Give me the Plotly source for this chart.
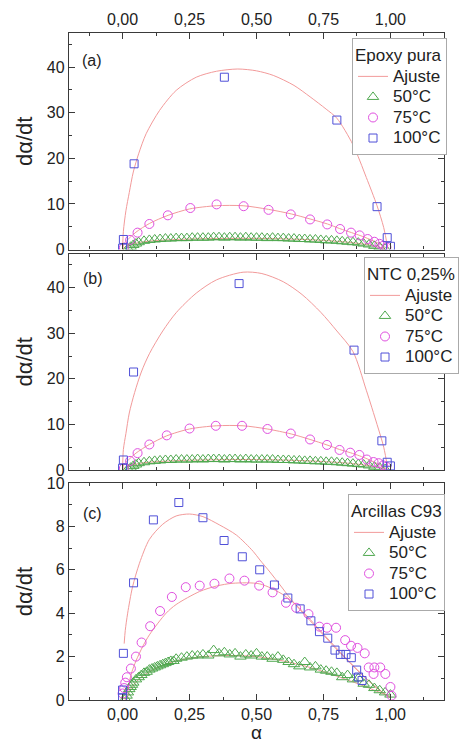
import plotly.graph_objects as go
from plotly.subplots import make_subplots

# ---------------- Panel (a): Epoxy pura ----------------
a_t50_x = [0.02,0.03,0.04,0.05,0.06,0.08,0.10,0.12,0.14,0.16,0.18,0.20,0.22,0.24,0.26,0.28,0.30,0.32,0.34,0.36,0.38,0.40,0.42,0.44,0.46,0.48,0.50,0.52,0.54,0.56,0.58,0.60,0.62,0.64,0.66,0.68,0.70,0.72,0.74,0.76,0.78,0.80,0.82,0.84,0.86,0.88,0.90,0.92,0.94,0.96,0.98]
a_t50_y = [0.2,0.6,1.0,1.3,1.6,1.9,2.1,2.2,2.3,2.4,2.4,2.5,2.5,2.5,2.6,2.6,2.6,2.6,2.7,2.7,2.6,2.7,2.7,2.6,2.7,2.6,2.6,2.6,2.5,2.6,2.5,2.5,2.4,2.4,2.3,2.3,2.2,2.2,2.1,2.0,2.0,1.9,1.8,1.7,1.6,1.5,1.3,1.1,0.8,0.5,0.2]
a_t75_x = [0.005,0.028,0.056,0.10,0.169,0.253,0.351,0.452,0.545,0.628,0.70,0.764,0.812,0.853,0.885,0.915,0.94,0.959,0.973,0.985]
a_t75_y = [0.4,2.1,3.7,5.6,7.5,9.1,9.9,9.5,8.7,7.7,6.6,5.5,4.5,3.7,3.1,2.3,1.7,1.25,0.8,0.5]
a_t100_x = [0.0,0.003,0.043,0.38,0.80,0.95,0.988,1.0]
a_t100_y = [0.3,2.2,18.8,37.8,28.4,9.4,2.6,0.7]
a_fit50_x = [0,0.01,0.03,0.08,0.15,0.25,0.35,0.45,0.55,0.65,0.75,0.85,0.92,0.96,0.98]
a_fit50_y = [0,0.6,1.1,1.7,2.05,2.3,2.4,2.45,2.4,2.25,2.0,1.55,1.0,0.5,0.1]
a_fit75_x = [0,0.005,0.02,0.05,0.1,0.17,0.25,0.35,0.45,0.545,0.63,0.70,0.765,0.81,0.855,0.89,0.92,0.95,0.97,0.99]
a_fit75_y = [0,1.2,2.2,3.8,5.7,7.5,8.9,9.6,9.6,8.8,7.8,6.7,5.6,4.6,3.7,3.0,2.3,1.5,0.9,0.1]
a_fit100_x = [0,0.003,0.0125,0.025,0.04,0.06,0.088,0.138,0.2,0.275,0.35,0.43,0.5,0.5625,0.64,0.70,0.76,0.80,0.86,0.91,0.95,0.975,0.99]
a_fit100_y = [0,4,8.5,12.5,17,21,25.4,30.5,34.9,37.8,39.1,39.6,39.2,38.2,36,33.5,30.8,28.8,23,15.8,9.6,4.8,0.3]

# ---------------- Panel (b): NTC 0,25% ----------------
b_t50_x = a_t50_x
b_t50_y = [0.2,0.5,0.9,1.2,1.5,1.7,1.9,2.0,2.1,2.2,2.2,2.3,2.3,2.3,2.3,2.4,2.3,2.4,2.4,2.4,2.3,2.4,2.4,2.3,2.4,2.3,2.3,2.3,2.3,2.3,2.2,2.2,2.2,2.1,2.1,2.0,2.0,1.9,1.9,1.8,1.8,1.7,1.6,1.5,1.4,1.3,1.2,1.0,0.7,0.5,0.2]
b_t75_x = [0.005,0.028,0.056,0.10,0.165,0.25,0.348,0.446,0.541,0.628,0.70,0.763,0.81,0.85,0.884,0.912,0.937,0.956,0.973,0.985]
b_t75_y = [0.4,2.0,3.7,5.6,7.6,9.1,9.7,9.7,9.0,8.0,6.7,5.5,4.4,3.8,3.3,2.3,1.75,1.5,1.0,0.7]
b_t100_x = [0.0,0.003,0.041,0.435,0.864,0.968,0.988,1.0]
b_t100_y = [0.4,2.2,21.5,40.9,26.3,6.4,1.7,0.9]
b_fit50_x = [0,0.01,0.03,0.08,0.15,0.25,0.35,0.45,0.55,0.65,0.75,0.85,0.92,0.96,0.98]
b_fit50_y = [0,0.5,1.0,1.6,1.9,2.15,2.25,2.3,2.25,2.1,1.85,1.45,0.95,0.5,0.1]
b_fit75_x = [0,0.005,0.02,0.05,0.1,0.165,0.25,0.35,0.45,0.54,0.63,0.70,0.763,0.81,0.85,0.885,0.915,0.94,0.965,0.99]
b_fit75_y = [0,1.2,2.1,3.7,5.6,7.5,9.0,9.7,9.7,9.0,7.9,6.7,5.5,4.5,3.8,3.1,2.4,1.7,1.0,0.1]
b_fit100_x = [0,0.003,0.0125,0.025,0.045,0.07,0.1,0.15,0.2,0.275,0.35,0.45,0.52,0.6,0.67,0.74,0.8,0.86,0.91,0.95,0.975,0.99]
b_fit100_y = [0,4.5,8,12.5,17,21.5,25.5,30.5,34.5,38.8,41.7,43.4,43.1,41.3,38.5,34.6,30.5,26,17.5,10,5,0.3]

# ---------------- Panel (c): Arcillas C93 ----------------
c_t50_x = [0.01,0.015,0.02,0.025,0.03,0.035,0.04,0.05,0.06,0.07,0.08,0.09,0.10,0.11,0.12,0.13,0.14,0.15,0.16,0.17,0.18,0.19,0.20,0.22,0.24,0.26,0.28,0.30,0.32,0.34,0.36,0.38,0.40,0.42,0.44,0.46,0.48,0.50,0.52,0.54,0.56,0.58,0.60,0.62,0.64,0.66,0.68,0.70,0.72,0.74,0.76,0.78,0.80,0.82,0.84,0.86,0.88,0.90,0.92,0.94,0.96,0.98,1.00]
c_t50_y = [0.05,0.2,0.35,0.5,0.6,0.7,0.8,0.95,1.05,1.15,1.25,1.3,1.4,1.45,1.5,1.55,1.6,1.65,1.7,1.75,1.8,1.8,1.9,1.95,2.0,2.05,2.05,2.1,2.05,2.3,2.15,2.2,2.1,2.15,2.0,2.1,2.05,2.15,2.0,2.0,1.9,2.0,1.85,1.75,1.65,1.55,1.75,1.5,1.55,1.4,1.35,1.3,1.25,1.05,1.15,0.95,1.0,0.75,0.7,0.55,0.45,0.35,0.25]
c_t75_x = [0.0,0.006,0.01,0.016,0.031,0.05,0.071,0.103,0.14,0.184,0.236,0.288,0.343,0.399,0.455,0.51,0.56,0.61,0.648,0.694,0.735,0.763,0.797,0.831,0.853,0.877,0.904,0.919,0.937,0.94,0.962,0.981,1.0,1.004]
c_t75_y = [0.3,0.55,0.8,1.05,1.45,2.0,2.65,3.4,4.1,4.75,5.2,5.27,5.36,5.6,5.5,5.27,4.96,4.48,4.25,3.96,3.38,3.33,3.33,2.76,2.5,2.4,2.15,1.5,1.2,1.5,1.5,1.2,0.6,0.2]
c_t100_x = [0.0,0.0,0.003,0.041,0.115,0.21,0.30,0.379,0.447,0.512,0.567,0.617,0.663,0.703,0.735,0.766,0.793,0.813,0.834,0.854,0.874,0.881,0.894]
c_t100_y = [0.1,0.46,2.15,5.4,8.3,9.1,8.4,7.35,6.6,6.0,5.3,4.7,4.2,3.65,3.15,2.85,2.3,2.1,2.1,1.95,1.38,1.06,0.9]
c_fit50_x = [0.015,0.03,0.06,0.1,0.15,0.2,0.3,0.4,0.5,0.6,0.7,0.8,0.9,0.97,1.0]
c_fit50_y = [0,0.5,0.95,1.3,1.6,1.8,2.0,2.05,2.0,1.8,1.5,1.1,0.65,0.3,0.15]
c_fit75_x = [0.01,0.02,0.035,0.05,0.075,0.1,0.1625,0.2,0.2875,0.35,0.4125,0.5125,0.6,0.663,0.738,0.813,0.888,0.95,1.0]
c_fit75_y = [0,0.6,1.3,1.8,2.46,3.0,4.0,4.4,5.0,5.25,5.38,5.35,4.85,4.2,3.2,2.2,1.25,0.55,0.1]
c_fit100_x = [0.006,0.01,0.019,0.037,0.063,0.1,0.15,0.2,0.25,0.3,0.363,0.425,0.4875,0.513,0.55,0.588,0.625,0.663,0.738,0.813,0.888,0.95,1.0]
c_fit100_y = [2.6,3.2,4.0,5.2,6.3,7.4,8.1,8.48,8.57,8.45,8.06,7.6,6.85,6.45,5.9,5.3,4.7,4.15,3.15,2.15,1.23,0.54,0.1]

panel_titles = ["Epoxy pura", "NTC 0,25%", "Arcillas C93"]
panel_labels = ["(a)", "(b)", "(c)"]
series_names = ["50°C", "75°C", "100°C"]
fit_name = "Ajuste"
x_title = "α"
y_title = "dα/dt"

panels = [
    dict(t=[(a_t50_x, a_t50_y), (a_t75_x, a_t75_y), (a_t100_x, a_t100_y)],
         f=[(a_fit50_x, a_fit50_y), (a_fit75_x, a_fit75_y), (a_fit100_x, a_fit100_y)]),
    dict(t=[(b_t50_x, b_t50_y), (b_t75_x, b_t75_y), (b_t100_x, b_t100_y)],
         f=[(b_fit50_x, b_fit50_y), (b_fit75_x, b_fit75_y), (b_fit100_x, b_fit100_y)]),
    dict(t=[(c_t50_x, c_t50_y), (c_t75_x, c_t75_y), (c_t100_x, c_t100_y)],
         f=[(c_fit50_x, c_fit50_y), (c_fit75_x, c_fit75_y), (c_fit100_x, c_fit100_y)]),
]

colors = ["#4fa84f", "#e050e0", "#5050d8"]
symbols = ["triangle-up-open", "circle-open", "square-open"]
sizes = [10, 9, 8]
fit_color = "#f29a9a"

FONT = "Liberation Sans, Arial, sans-serif"
LEG_TXT = '<span style="font-size:17px">{}</span>'

fig = make_subplots(rows=3, cols=1)

legend_keys = ["legend", "legend2", "legend3"]
for i, p in enumerate(panels):
    row = i + 1
    for j, (fx_, fy_) in enumerate(p["f"]):
        fig.add_trace(go.Scatter(x=fx_, y=fy_, mode="lines", name=LEG_TXT.format(fit_name),
                                 line=dict(color=fit_color, width=1, shape="spline", smoothing=0.8),
                                 showlegend=(j == 0), legend=legend_keys[i]), row=row, col=1)
    for j, (tx, ty) in enumerate(p["t"]):
        fig.add_trace(go.Scatter(x=tx, y=ty, mode="markers", name=LEG_TXT.format(series_names[j]),
                                 marker=dict(symbol=symbols[j], size=sizes[j], color=colors[j],
                                             line=dict(width=1, color=colors[j])),
                                 legend=legend_keys[i]), row=row, col=1)

W, H = 465, 743
ml, mr, mt, mb = 69, 21, 33, 43
ph = H - mt - mb
pw = W - ml - mr

def fy(py):
    return (H - mb - py) / ph

def fx(px):
    return (px - ml) / pw

domains = [[fy(249.5), fy(33)], [fy(470), fy(253.5)], [fy(700), fy(483)]]
yranges = [[0, 47.5], [0, 47.5], [0, 10]]
ydticks = [10, 10, 2]

axis_common = dict(showline=True, linecolor="#3a3a3a", linewidth=1.3, mirror="allticks",
                   ticks="inside", ticklen=6, tickwidth=1, tickcolor="#3a3a3a",
                   showgrid=False, zeroline=False,
                   tickfont=dict(family=FONT, size=16, color="#222"))

for i in range(3):
    xa = "xaxis" if i == 0 else f"xaxis{i+1}"
    ya = "yaxis" if i == 0 else f"yaxis{i+1}"
    xkw = dict(axis_common)
    xkw.update(range=[-0.2, 1.2], tick0=0, dtick=0.25, tickformat=".2f",
               minor=dict(ticks="inside", dtick=0.125, tick0=0, ticklen=3, tickcolor="#3a3a3a"))
    if i == 0:
        xkw.update(side="top", showticklabels=True)
    elif i == 1:
        xkw.update(showticklabels=False)
    else:
        xkw.update(showticklabels=True, title=dict(text=x_title, font=dict(family=FONT, size=19, color="#222"), standoff=6))
    if i > 0:
        xkw.update(matches="x")
    fig.layout[xa].update(**xkw)
    ykw = dict(axis_common)
    ykw.update(range=yranges[i], dtick=ydticks[i], tick0=0, domain=domains[i],
               minor=dict(ticks="inside", dtick=ydticks[i] / 2, ticklen=3, tickcolor="#3a3a3a"),
               title=dict(text=y_title, font=dict(family=FONT, size=22, color="#222"), standoff=8))
    fig.layout[ya].update(**ykw)

legend_pos = [(352, 38), (364, 257), (348, 494)]
for i, key in enumerate(legend_keys):
    lx, ly = legend_pos[i]
    fig.layout[key] = dict(x=fx(lx), y=fy(ly), xanchor="left", yanchor="top",
                           xref="paper", yref="paper",
                           bgcolor="white", bordercolor="#aaaaaa", borderwidth=1,
                           font=dict(family=FONT, size=13.5, color="#222"),
                           title=dict(text=panel_titles[i], font=dict(family=FONT, size=17, color="#222")),
                           tracegroupgap=0, itemwidth=30)

label_pos = [(92, 60), (93, 278), (92, 513)]
for i, (lx, ly) in enumerate(label_pos):
    fig.add_annotation(x=fx(lx), y=fy(ly), xref="paper", yref="paper", text=panel_labels[i],
                       showarrow=False, font=dict(family=FONT, size=16, color="#222"),
                       xanchor="center", yanchor="middle")

fig.update_layout(width=W, height=H, margin=dict(l=ml, r=mr, t=mt, b=mb, autoexpand=False),
                  paper_bgcolor="white", plot_bgcolor="white", separators=",.",
                  font=dict(family=FONT, size=16, color="#222"))

fig.write_html("out.html", config={"displayModeBar": False},
               post_script="document.body.style.margin='0px';")
